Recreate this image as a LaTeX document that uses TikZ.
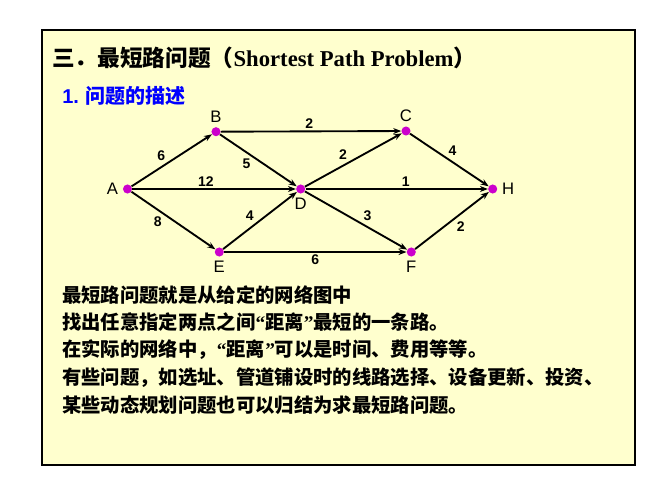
\documentclass[tikz,border=0pt]{standalone}
\usepackage{fontspec}
\setmainfont{Liberation Serif}
\newfontfamily\cjk{Noto Sans CJK SC}
\newfontfamily\arial{Liberation Sans}
\usetikzlibrary{arrows.meta}
\definecolor{boxyellow}{RGB}{255,255,206}
\definecolor{dotpink}{RGB}{204,0,204}
\definecolor{headblue}{RGB}{0,0,255}
\newcommand{\oq}{{\rmfamily\bfseries “}}
\newcommand{\cq}{{\rmfamily\bfseries ”}}
\begin{document}
\begin{tikzpicture}
[x=0.75pt,y=-0.75pt,%
  vertex/.style={shape=circle,fill=dotpink,inner sep=0pt,minimum size=6.8pt},%
  arc/.style={-{Stealth[length=6pt,width=4.5pt]},line width=1.4pt},%
  vlabel/.style={font=\arial\fontsize{12.5}{14}\selectfont},%
  weight/.style={font=\arial\bfseries\fontsize{10.5}{12}\selectfont,inner sep=1.2pt},%
  textline/.style={anchor=west,inner sep=0pt,font=\cjk\bfseries\fontsize{14.5}{17}\selectfont}]
\useasboundingbox (0,0) rectangle (661,497);
\draw[fill=boxyellow,line width=0.8pt] (42,30) rectangle (635,465);
% heading
\node[anchor=west,inner sep=0pt,font=\bfseries\fontsize{17}{20}\selectfont] (title) at (52,58)
  {{\cjk 三．最短路问题（}Shortest Path Problem{\cjk ）}};
\node[anchor=west,inner sep=0pt,text=headblue,font=\bfseries\fontsize{15}{18}\selectfont] (sub) at (62,96)
  {{\arial 1.} {\cjk 问题的描述}};
% network
\node[vertex,label={[vlabel]left:A}]  (A) at (127.5,189) {};
\node[vertex,label={[vlabel]above:B}] (B) at (216,131.7) {};
\node[vertex,label={[vlabel]above:C}] (C) at (406,131) {};
\node[vertex,label={[vlabel]below:D}] (D) at (300.7,189) {};
\node[vertex,label={[vlabel]below:E}] (E) at (219.3,252) {};
\node[vertex,label={[vlabel]below:F}] (F) at (411.3,252) {};
\node[vertex,label={[vlabel]right:H}] (H) at (492.7,189) {};
\draw[arc] (A) -- node[weight,pos=.45,above left] {6} (B);
\draw[arc] (A) -- node[weight,pos=.45,above] {12} (D);
\draw[arc] (A) -- node[weight,pos=.39,below left] {8} (E);
\draw[arc] (B) -- node[weight,pos=.49,above] {2} (C);
\draw[arc] (B) -- node[weight,pos=.43,below left] {5} (D);
\draw[arc] (D) -- node[weight,pos=.46,above left] {2} (C);
\draw[arc] (C) -- node[weight,pos=.46,above right] {4} (H);
\draw[arc] (D) -- node[weight,pos=.55,above] {1} (H);
\draw[arc] (D) -- node[weight,pos=.55,above right] {3} (F);
\draw[arc] (E) -- node[weight,pos=.45,above left] {4} (D);
\draw[arc] (E) -- node[weight,pos=.5,below] {6} (F);
\draw[arc] (F) -- node[weight,pos=.53,below right] {2} (H);
% description
\node[textline] (t1) at (62,295) {最短路问题就是从给定的网络图中};
\node[textline] (t2) at (62,322) {找出任意指定两点之间\oq 距离\cq 最短的一条路。};
\node[textline] (t3) at (62,350) {在实际的网络中，\oq 距离\cq 可以是时间、费用等等。};
\node[textline] (t4) at (62,378) {有些问题，如选址、管道铺设时的线路选择、设备更新、投资、};
\node[textline] (t5) at (62,405) {某些动态规划问题也可以归结为求最短路问题。};
\end{tikzpicture}
\end{document}
